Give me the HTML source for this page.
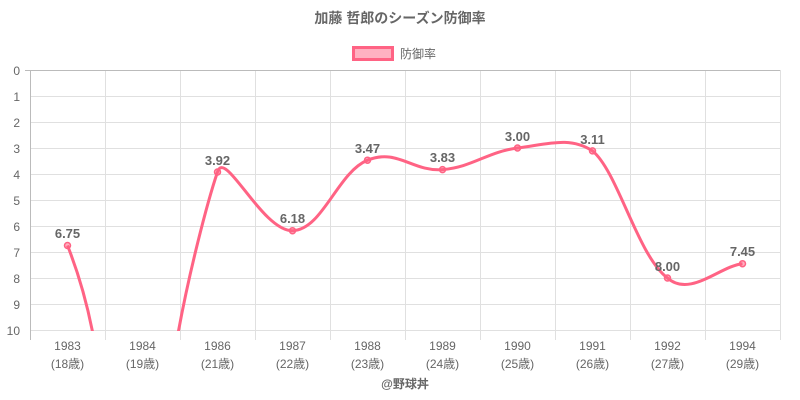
<!DOCTYPE html>
<html><head><meta charset="utf-8"><style>
html,body{margin:0;padding:0;background:#fff;width:800px;height:400px;overflow:hidden}
svg{display:block}
text{font-family:"Liberation Sans","Noto Sans CJK JP",sans-serif}
</style></head><body>
<svg width="800" height="400" viewBox="0 0 800 400" xmlns="http://www.w3.org/2000/svg">
<text x="400" y="23" text-anchor="middle" font-size="14" font-weight="bold" fill="#666">加藤 哲郎のシーズン防御率</text>
<rect x="353.5" y="47.5" width="39" height="12" fill="rgba(255,99,132,0.5)" stroke="#ff6384" stroke-width="3"/>
<text x="400" y="58" font-size="12" fill="#666">防御率</text>
<g stroke="#e0e0e0" stroke-width="1">
<line x1="30" y1="96.5" x2="780" y2="96.5"/><line x1="30" y1="122.5" x2="780" y2="122.5"/>
<line x1="30" y1="148.5" x2="780" y2="148.5"/><line x1="30" y1="174.5" x2="780" y2="174.5"/>
<line x1="30" y1="200.5" x2="780" y2="200.5"/><line x1="30" y1="226.5" x2="780" y2="226.5"/>
<line x1="30" y1="252.5" x2="780" y2="252.5"/><line x1="30" y1="278.5" x2="780" y2="278.5"/>
<line x1="30" y1="304.5" x2="780" y2="304.5"/><line x1="30" y1="330.5" x2="780" y2="330.5"/>
<line x1="105.5" y1="70" x2="105.5" y2="340"/><line x1="180.5" y1="70" x2="180.5" y2="340"/>
<line x1="255.5" y1="70" x2="255.5" y2="340"/><line x1="330.5" y1="70" x2="330.5" y2="340"/>
<line x1="405.5" y1="70" x2="405.5" y2="340"/><line x1="480.5" y1="70" x2="480.5" y2="340"/>
<line x1="555.5" y1="70" x2="555.5" y2="340"/><line x1="630.5" y1="70" x2="630.5" y2="340"/>
<line x1="705.5" y1="70" x2="705.5" y2="340"/><line x1="780.5" y1="70" x2="780.5" y2="340"/>
</g>
<line x1="25" y1="70.5" x2="780" y2="70.5" stroke="#bbb"/>
<line x1="30.5" y1="70" x2="30.5" y2="340" stroke="#bbb"/>
<g font-size="12" fill="#666" text-anchor="end">
<text x="20" y="75">0</text><text x="20" y="101">1</text><text x="20" y="127">2</text><text x="20" y="153">3</text>
<text x="20" y="179">4</text><text x="20" y="205">5</text><text x="20" y="231">6</text><text x="20" y="257">7</text>
<text x="20" y="283">8</text><text x="20" y="309">9</text><text x="20" y="335">10</text>
</g>
<g font-size="12" fill="#666" text-anchor="middle">
<text x="67.5" y="350">1983</text><text x="67.5" y="368">(18歳)</text>
<text x="142.5" y="350">1984</text><text x="142.5" y="368">(19歳)</text>
<text x="217.5" y="350">1986</text><text x="217.5" y="368">(21歳)</text>
<text x="292.5" y="350">1987</text><text x="292.5" y="368">(22歳)</text>
<text x="367.5" y="350">1988</text><text x="367.5" y="368">(23歳)</text>
<text x="442.5" y="350">1989</text><text x="442.5" y="368">(24歳)</text>
<text x="517.5" y="350">1990</text><text x="517.5" y="368">(25歳)</text>
<text x="592.5" y="350">1991</text><text x="592.5" y="368">(26歳)</text>
<text x="667.5" y="350">1992</text><text x="667.5" y="368">(27歳)</text>
<text x="742.5" y="350">1994</text><text x="742.5" y="368">(29歳)</text>
</g>
<text x="405" y="388" text-anchor="middle" font-size="12" font-weight="bold" fill="#666">@野球丼</text>
<defs><clipPath id="c"><rect x="30" y="60" width="752" height="271"/></clipPath></defs>
<g clip-path="url(#c)" fill="none" stroke="#ff6384" stroke-width="3">
<path d="M67.5,245.5 C78,272 88,305 95,345"/>
<path d="M176,345 C188,275 208,200 217.5,172 C225,148 262,231 292.5,230.7 C322.5,230 337.5,172.4 367.5,160.2 C397.5,148 412.5,172 442.5,169.6 C472.5,167.2 487.5,151.8 517.5,148 C547.5,144.2 570,136 592.5,150.9 C618,172 637.5,255.4 667.5,278 C690,298 720,266 742.5,263.7"/>
</g>
<g fill="rgba(255,99,132,0.5)" stroke="#ff6384" stroke-width="1.5">
<circle cx="67.5" cy="245.5" r="3"/><circle cx="217.5" cy="172" r="3"/><circle cx="292.5" cy="230.7" r="3"/>
<circle cx="367.5" cy="160.2" r="3"/><circle cx="442.5" cy="169.6" r="3"/><circle cx="517.5" cy="148" r="3"/>
<circle cx="592.5" cy="150.9" r="3"/><circle cx="667.5" cy="278" r="3"/><circle cx="742.5" cy="263.7" r="3"/>
</g>
<g font-size="13" font-weight="bold" fill="#666" text-anchor="middle">
<text x="67.5" y="238">6.75</text><text x="217.5" y="165">3.92</text><text x="292.5" y="223">6.18</text>
<text x="367.5" y="153">3.47</text><text x="442.5" y="162">3.83</text><text x="517.5" y="141">3.00</text>
<text x="592.5" y="144">3.11</text><text x="667.5" y="271">8.00</text><text x="742.5" y="256">7.45</text>
</g>
</svg>
</body></html>
